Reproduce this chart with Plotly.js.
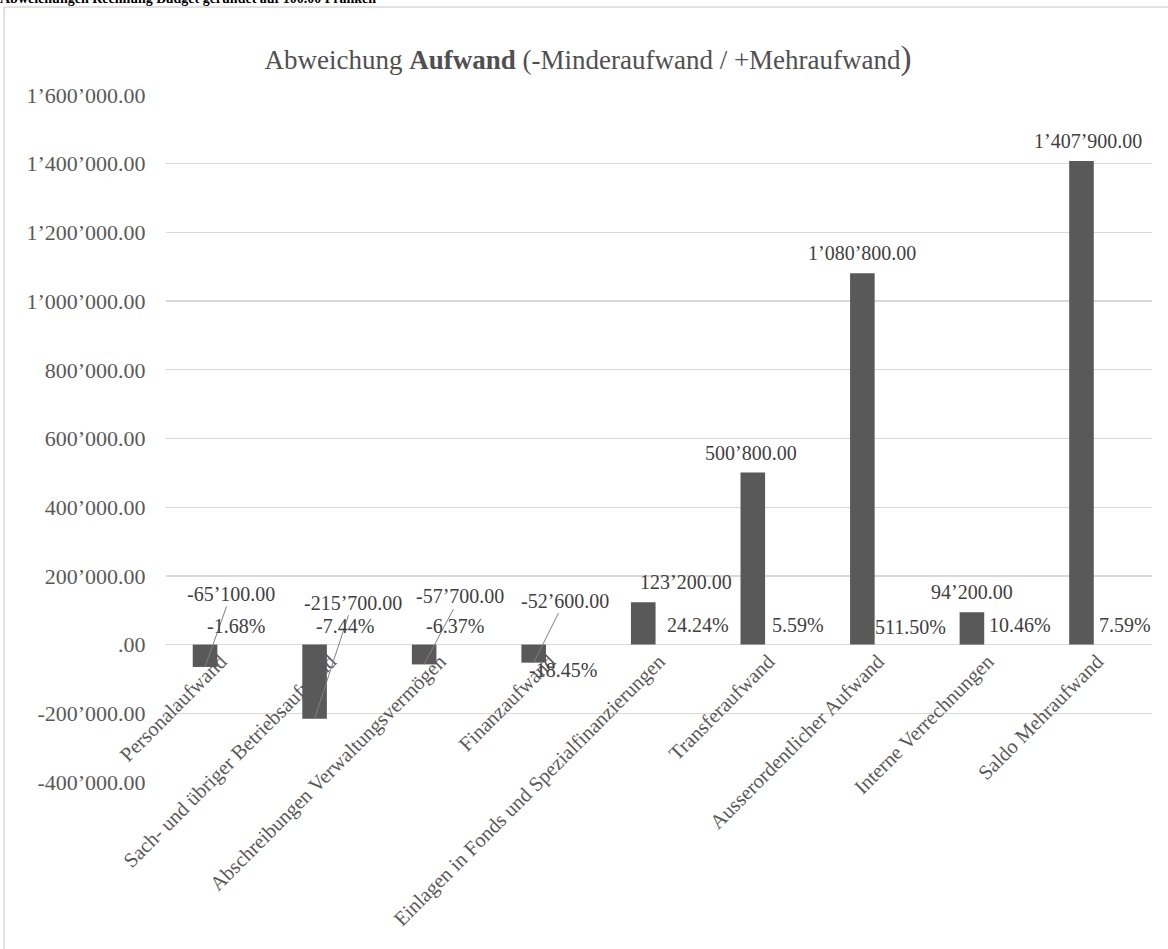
<!DOCTYPE html>
<html>
<head>
<meta charset="utf-8">
<script src="https://cdn.plot.ly/plotly-3.0.1.min.js"></script>
<style>html,body{margin:0;padding:0;background:#fff;}#chart{width:1168px;height:949px;}</style>
</head>
<body>
<div id="chart"></div>
<script>
const headerText = 'Abweichungen Rechnung Budget gerundet auf 100.00 Franken';
const chartTitle = 'Abweichung <b>Aufwand</b> (-Minderaufwand / +Mehraufwand<span style="font-size:33px">)</span>';
const categories = [
  'Personalaufwand',
  'Sach- und übriger Betriebsaufwand',
  'Abschreibungen Verwaltungsvermögen',
  'Finanzaufwand',
  'Einlagen in Fonds und Spezialfinanzierungen',
  'Transferaufwand',
  'Ausserordentlicher Aufwand',
  'Interne Verrechnungen',
  'Saldo Mehraufwand'
];
const deviations = [-65100, -215700, -57700, -52600, 123200, 500800, 1080800, 94200, 1407900];
const percentages = [-1.68, -7.44, -6.37, -18.45, 24.24, 5.59, 511.50, 10.46, 7.59];
const yTickValues = [-400000, -200000, 0, 200000, 400000, 600000, 800000, 1000000, 1200000, 1400000, 1600000];
const yTickLabels = ['-400’000.00', '-200’000.00', '.00', '200’000.00', '400’000.00', '600’000.00', '800’000.00', '1’000’000.00', '1’200’000.00', '1’400’000.00', '1’600’000.00'];

function fmt(v) {
  const s = Math.abs(v).toFixed(0).replace(/\B(?=(\d{3})+(?!\d))/g, '’');
  return (v < 0 ? '-' : '') + s + '.00';
}

const FONT = 'Liberation Serif, Times New Roman, serif';
const BAR_W = 0.2245, BAR_OFF = -0.256;
const barCenter = BAR_OFF + BAR_W / 2;

// label placement (pixels)
const valueShiftX = [0, 0, 0, 0, 43, -2, 0, 0, 7];
const leader = [[26, -73], [38, -116], [36, -68], [31, -62]];
const pctShiftX = [15, 15, 15, 14, 39, 29, 32, 32, 28];
const pctShiftY = [19, 19, 19, -25, 20, 20, 18, 20, 20];

const annotations = [];
deviations.forEach((v, i) => {
  if (v < 0) {
    annotations.push({
      x: i + barCenter, y: v, xref: 'x', yref: 'y', text: fmt(v),
      showarrow: true, arrowhead: 0, arrowwidth: 1, arrowcolor: '#808080', standoff: 0,
      ax: leader[i][0], ay: leader[i][1],
      font: {family: FONT, size: 20, color: '#404040'}
    });
  } else {
    annotations.push({
      x: i + barCenter, y: v, xref: 'x', yref: 'y', text: fmt(v), showarrow: false,
      xshift: valueShiftX[i], yshift: 20, yanchor: 'middle', xanchor: 'center',
      font: {family: FONT, size: 20, color: '#404040'}
    });
  }
});
percentages.forEach((p, i) => {
  annotations.push({
    x: i, y: 0, xref: 'x', yref: 'y', text: p.toFixed(2) + '%', showarrow: false,
    xshift: pctShiftX[i], yshift: pctShiftY[i], yanchor: 'middle', xanchor: 'center',
    font: {family: FONT, size: 20, color: '#404040'}
  });
});
annotations.push({
  xref: 'paper', yref: 'paper', x: -0.1695, y: 1 + (95 - 7) / 687.5, xanchor: 'left', yanchor: 'bottom',
  text: '<b>' + headerText + '</b>', showarrow: false, borderpad: 0,
  font: {family: FONT, size: 14, color: '#000000'}
});

const trace = {
  type: 'bar', x: categories, y: deviations,
  width: BAR_W, offset: BAR_OFF,
  marker: {color: '#595959'}, hoverinfo: 'none'
};

const layout = {
  width: 1168, height: 949,
  margin: {l: 166, r: 15.5, t: 95, b: 166.5},
  paper_bgcolor: '#ffffff', plot_bgcolor: '#ffffff',
  showlegend: false,
  title: {
    text: chartTitle, xref: 'container', yref: 'container',
    x: 588 / 1168, y: 1 - 60 / 949, xanchor: 'center', yanchor: 'middle',
    font: {family: FONT, size: 27, color: '#505050'}
  },
  xaxis: {
    type: 'category', range: [-0.5, 8.5], anchor: 'free', position: 0.2,
    showline: false, showgrid: false, zeroline: false, ticks: '',
    tickangle: -45, tickfont: {family: FONT, size: 20.5, color: '#595959'}
  },
  yaxis: {
    range: [-400000, 1600000], tickvals: yTickValues, ticktext: yTickLabels,
    showgrid: true, gridcolor: '#d9d9d9', gridwidth: 1.3,
    zeroline: true, zerolinecolor: '#d9d9d9', zerolinewidth: 1.3,
    showline: false, ticks: 'outside', ticklen: 15, tickcolor: 'rgba(0,0,0,0)',
    tickfont: {family: FONT, size: 22, color: '#595959'}
  },
  annotations: annotations,
  shapes: [
    {type: 'line', xref: 'paper', yref: 'paper', x0: -0.1642, x1: -0.1642, y0: 1.128, y1: -0.3, line: {color: '#d9d9d9', width: 1.5}},
    {type: 'line', xref: 'paper', yref: 'paper', x0: -0.1642, x1: 1.05, y0: 1.128, y1: 1.128, line: {color: '#d9d9d9', width: 1.5}}
  ]
};

Plotly.newPlot('chart', [trace], layout, {displayModeBar: false, staticPlot: true});
</script>
</body>
</html>
